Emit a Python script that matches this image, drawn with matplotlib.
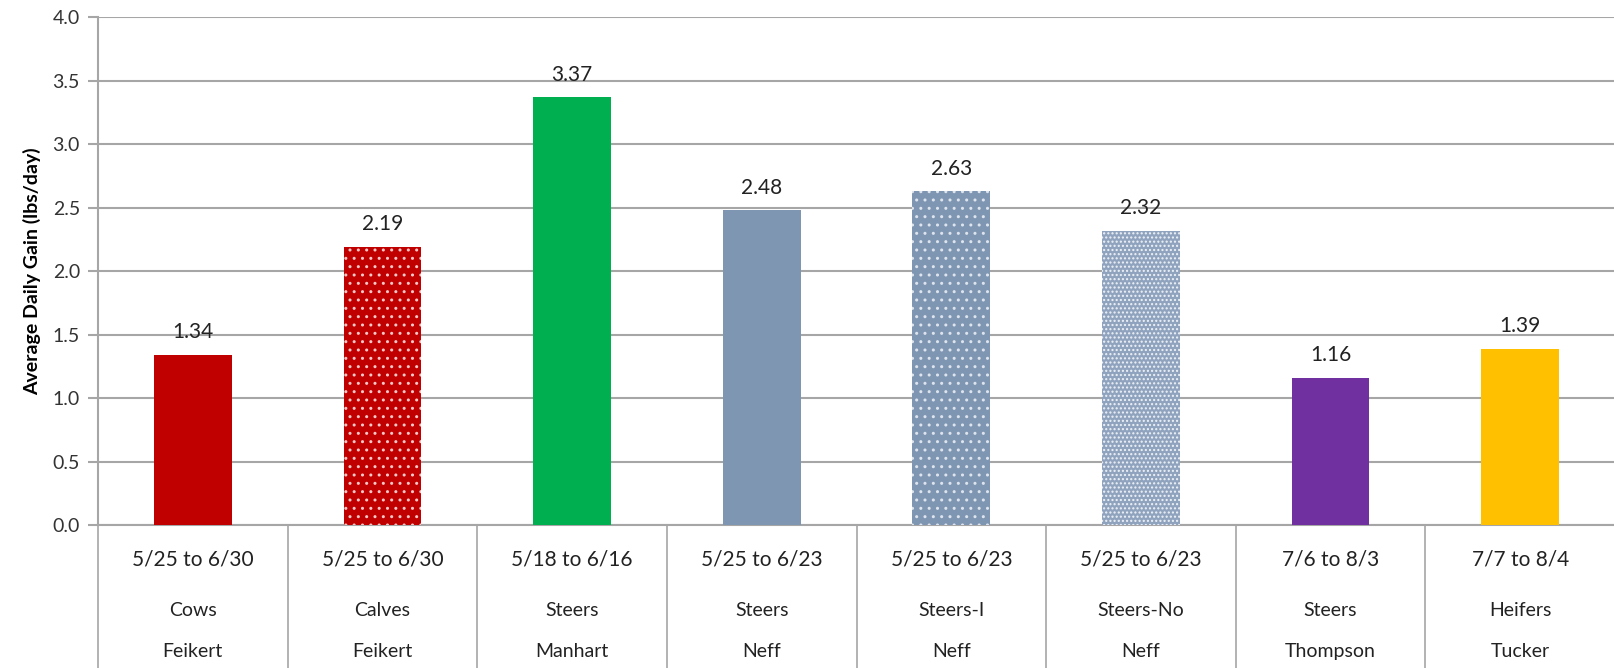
import numpy as np
import matplotlib
matplotlib.use("Agg")
import matplotlib.pyplot as plt
from matplotlib.transforms import blended_transform_factory

plt.rcParams['font.family'] = ['Lato', 'DejaVu Sans']
plt.rcParams['hatch.linewidth'] = 1.0

periods = ["5/25 to 6/30", "5/25 to 6/30", "5/18 to 6/16", "5/25 to 6/23",
           "5/25 to 6/23", "5/25 to 6/23", "7/6 to 8/3", "7/7 to 8/4"]
groups = ["Cows", "Calves", "Steers", "Steers", "Steers-I", "Steers-No",
          "Steers", "Heifers"]
ranchers = ["Feikert", "Feikert", "Manhart", "Neff", "Neff", "Neff",
            "Thompson", "Tucker"]
adg = [1.34, 2.19, 3.37, 2.48, 2.63, 2.32, 1.16, 1.39]

colors = ['#C00000', '#C00000', '#00B050', '#7F96B2', '#7F96B2', '#8FA3BE',
          '#7030A0', '#FFC000']
hatches = [None, '..', None, None, '..', '....', None, None]
hatch_cols = [None, '#F2C8C8', None, None, '#DDE4EE', '#EEF2F7', None, None]

fig = plt.figure(figsize=(16.15, 6.68), dpi=100)
ax = fig.add_axes([0.0607, 0.214, 0.9393, 0.760])

x = np.arange(len(adg))
grid_c = '#A6A6A6'
for i in range(len(adg)):
    h = hatches[i]
    ax.bar(x[i], adg[i], width=0.41, color=colors[i], zorder=3,
           hatch=h, edgecolor=hatch_cols[i] if h else colors[i],
           linewidth=0)
    ax.text(x[i], adg[i] + 0.1, f"{adg[i]:.2f}", ha='center', va='bottom',
            fontsize=15, color='#222222')

ax.set_xlim(-0.5, len(adg) - 0.5)
ax.set_ylim(0, 4.0)
ax.set_yticks(np.arange(0, 4.01, 0.5))
ax.set_yticklabels([f"{v:.1f}" for v in np.arange(0, 4.01, 0.5)])
ax.yaxis.grid(True, color=grid_c, linewidth=1.5, zorder=0)
ax.set_xticks([])
ax.tick_params(axis='y', labelsize=14, length=7, width=1.5, color=grid_c,
               labelcolor='#333333', pad=6)
for s in ['top', 'right']:
    ax.spines[s].set_visible(False)
for s in ['left', 'bottom']:
    ax.spines[s].set_color(grid_c)
    ax.spines[s].set_linewidth(1.5)
ax.set_ylabel('Average Daily Gain (lbs/day)', fontsize=14, fontweight='bold',
              labelpad=8)

# category table below the axis
trans = blended_transform_factory(ax.transData, ax.transAxes)
table_bottom = -0.285
for b in np.arange(len(adg) + 1) - 0.5:
    ax.plot([b, b], [0, table_bottom], transform=trans, color=grid_c,
            linewidth=1.2, clip_on=False)
rows = [(periods, -0.067), (groups, -0.168), (ranchers, -0.250)]
for labels, yy in rows:
    for i, lab in enumerate(labels):
        ax.text(x[i], yy, lab, transform=trans, ha='center', va='center',
                fontsize=15 if labels is periods else 14, color='#222222')

fig.savefig("out.png", dpi=100)
